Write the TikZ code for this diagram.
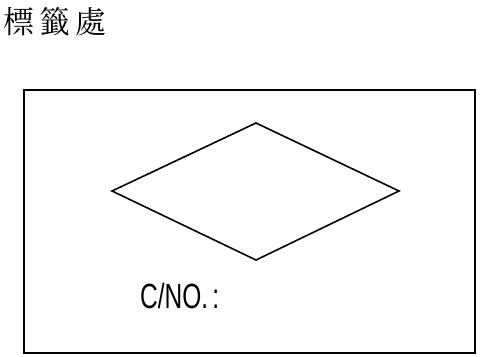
\documentclass[tikz,border=0pt]{standalone}
\usepackage{fontspec}
\usepackage{graphicx}
\newfontfamily\cjk{Noto Serif CJK TC}
\setmainfont{Liberation Sans}
\tikzset{
  frameline/.style={line width=2.2pt},
  diamondline/.style={line width=1.6pt, line join=miter},
}
\begin{document}
\begin{tikzpicture}[x=1pt,y=-1pt]
\useasboundingbox (0,0) rectangle (484,356);
\node[anchor=west, inner sep=0pt, font=\cjk\fontsize{31}{33}\selectfont] (title) at (3,22) {標\hspace{5pt}籤\hspace{5pt}處};
\coordinate (r1) at (24,90);
\coordinate (r2) at (475,353);
\draw[frameline] (r1) rectangle (r2);
\coordinate (dl) at (112,191);
\coordinate (dt) at (256,123);
\coordinate (dr) at (399,191);
\coordinate (db) at (256,260);
\draw[diamondline] (dl) -- (dt) -- (dr) -- (db) -- cycle;
\node[anchor=base west, inner sep=0pt, font=\fontsize{35}{37}\selectfont] (cno) at (140,308) {\scalebox{0.7}[1]{C/NO.\hspace{6pt}:}};
\end{tikzpicture}
\end{document}
